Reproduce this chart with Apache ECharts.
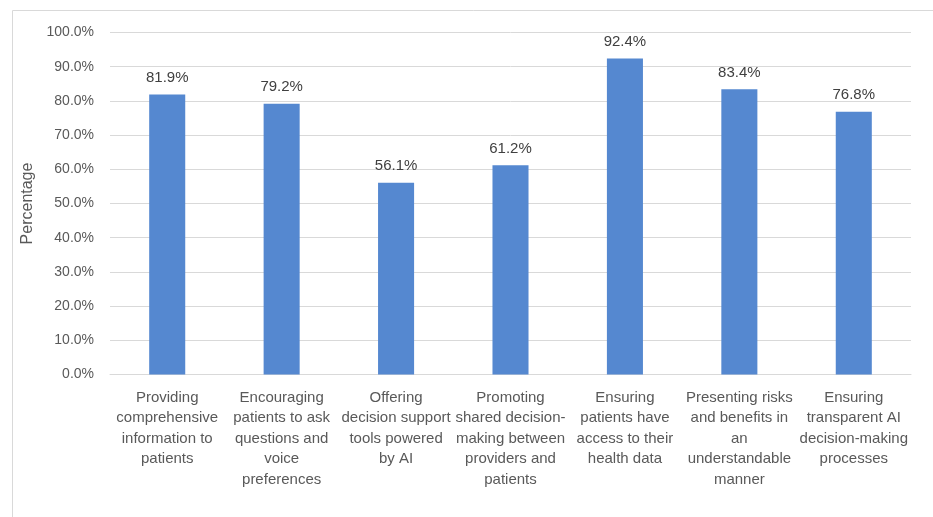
<!DOCTYPE html>
<html><head><meta charset="utf-8">
<script src="https://cdn.jsdelivr.net/npm/echarts@6/dist/echarts.min.js"></script>
<style>html,body{margin:0;padding:0;background:#fff}#c{width:933px;height:517px}</style>
</head><body><div id="c"></div>
<script>
const categories = [
  "Providing\ncomprehensive\ninformation to\npatients",
  "Encouraging\npatients to ask\nquestions and\nvoice\npreferences",
  "Offering\ndecision support\ntools powered\nby AI",
  "Promoting\nshared decision-\nmaking between\nproviders and\npatients",
  "Ensuring\npatients have\naccess to their\nhealth data",
  "Presenting risks\nand benefits in\nan\nunderstandable\nmanner",
  "Ensuring\ntransparent AI\ndecision-making\nprocesses"
];
const values = [81.9, 79.2, 56.1, 61.2, 92.4, 83.4, 76.8];
const yAxisTitle = "Percentage";

const chart = echarts.init(document.getElementById('c'), null, {renderer:'canvas'});
const font = "'Liberation Sans', Arial, sans-serif";
chart.setOption({
  animation:false,
  textStyle:{fontFamily:font},
  graphic:[{type:'rect', shape:{x:12.5,y:10.5,width:940,height:520}, style:{fill:'none', stroke:'#d9d9d9', lineWidth:1}, silent:true}],
  grid:{left:110, right:22, top:32.5, bottom:142.5, containLabel:false},
  xAxis:{type:'category', data:categories,
    axisLine:{show:true, lineStyle:{color:'#d9d9d9', width:1}},
    axisTick:{show:false},
    axisLabel:{interval:0, color:'#595959', fontSize:15, lineHeight:20.5, margin:13, fontFamily:font}
  },
  yAxis:{type:'value', min:0, max:100, interval:10,
    name:yAxisTitle, nameLocation:'middle', nameGap:72, nameRotate:90,
    nameTextStyle:{color:'#595959', fontSize:16, fontFamily:font},
    axisLine:{show:false}, axisTick:{show:false},
    splitLine:{lineStyle:{color:'#d9d9d9', width:1}},
    axisLabel:{color:'#595959', fontSize:14, margin:16, fontFamily:font, formatter:v=>v.toFixed(1)+'%'}
  },
  series:[{type:'bar', data:values, barWidth:'31.5%',
    itemStyle:{color:'#5588d0'},
    label:{show:true, position:'top', distance:9, color:'#404040', fontSize:15, fontFamily:font, formatter:p=>p.value.toFixed(1)+'%'}
  }]
});
</script></body></html>
